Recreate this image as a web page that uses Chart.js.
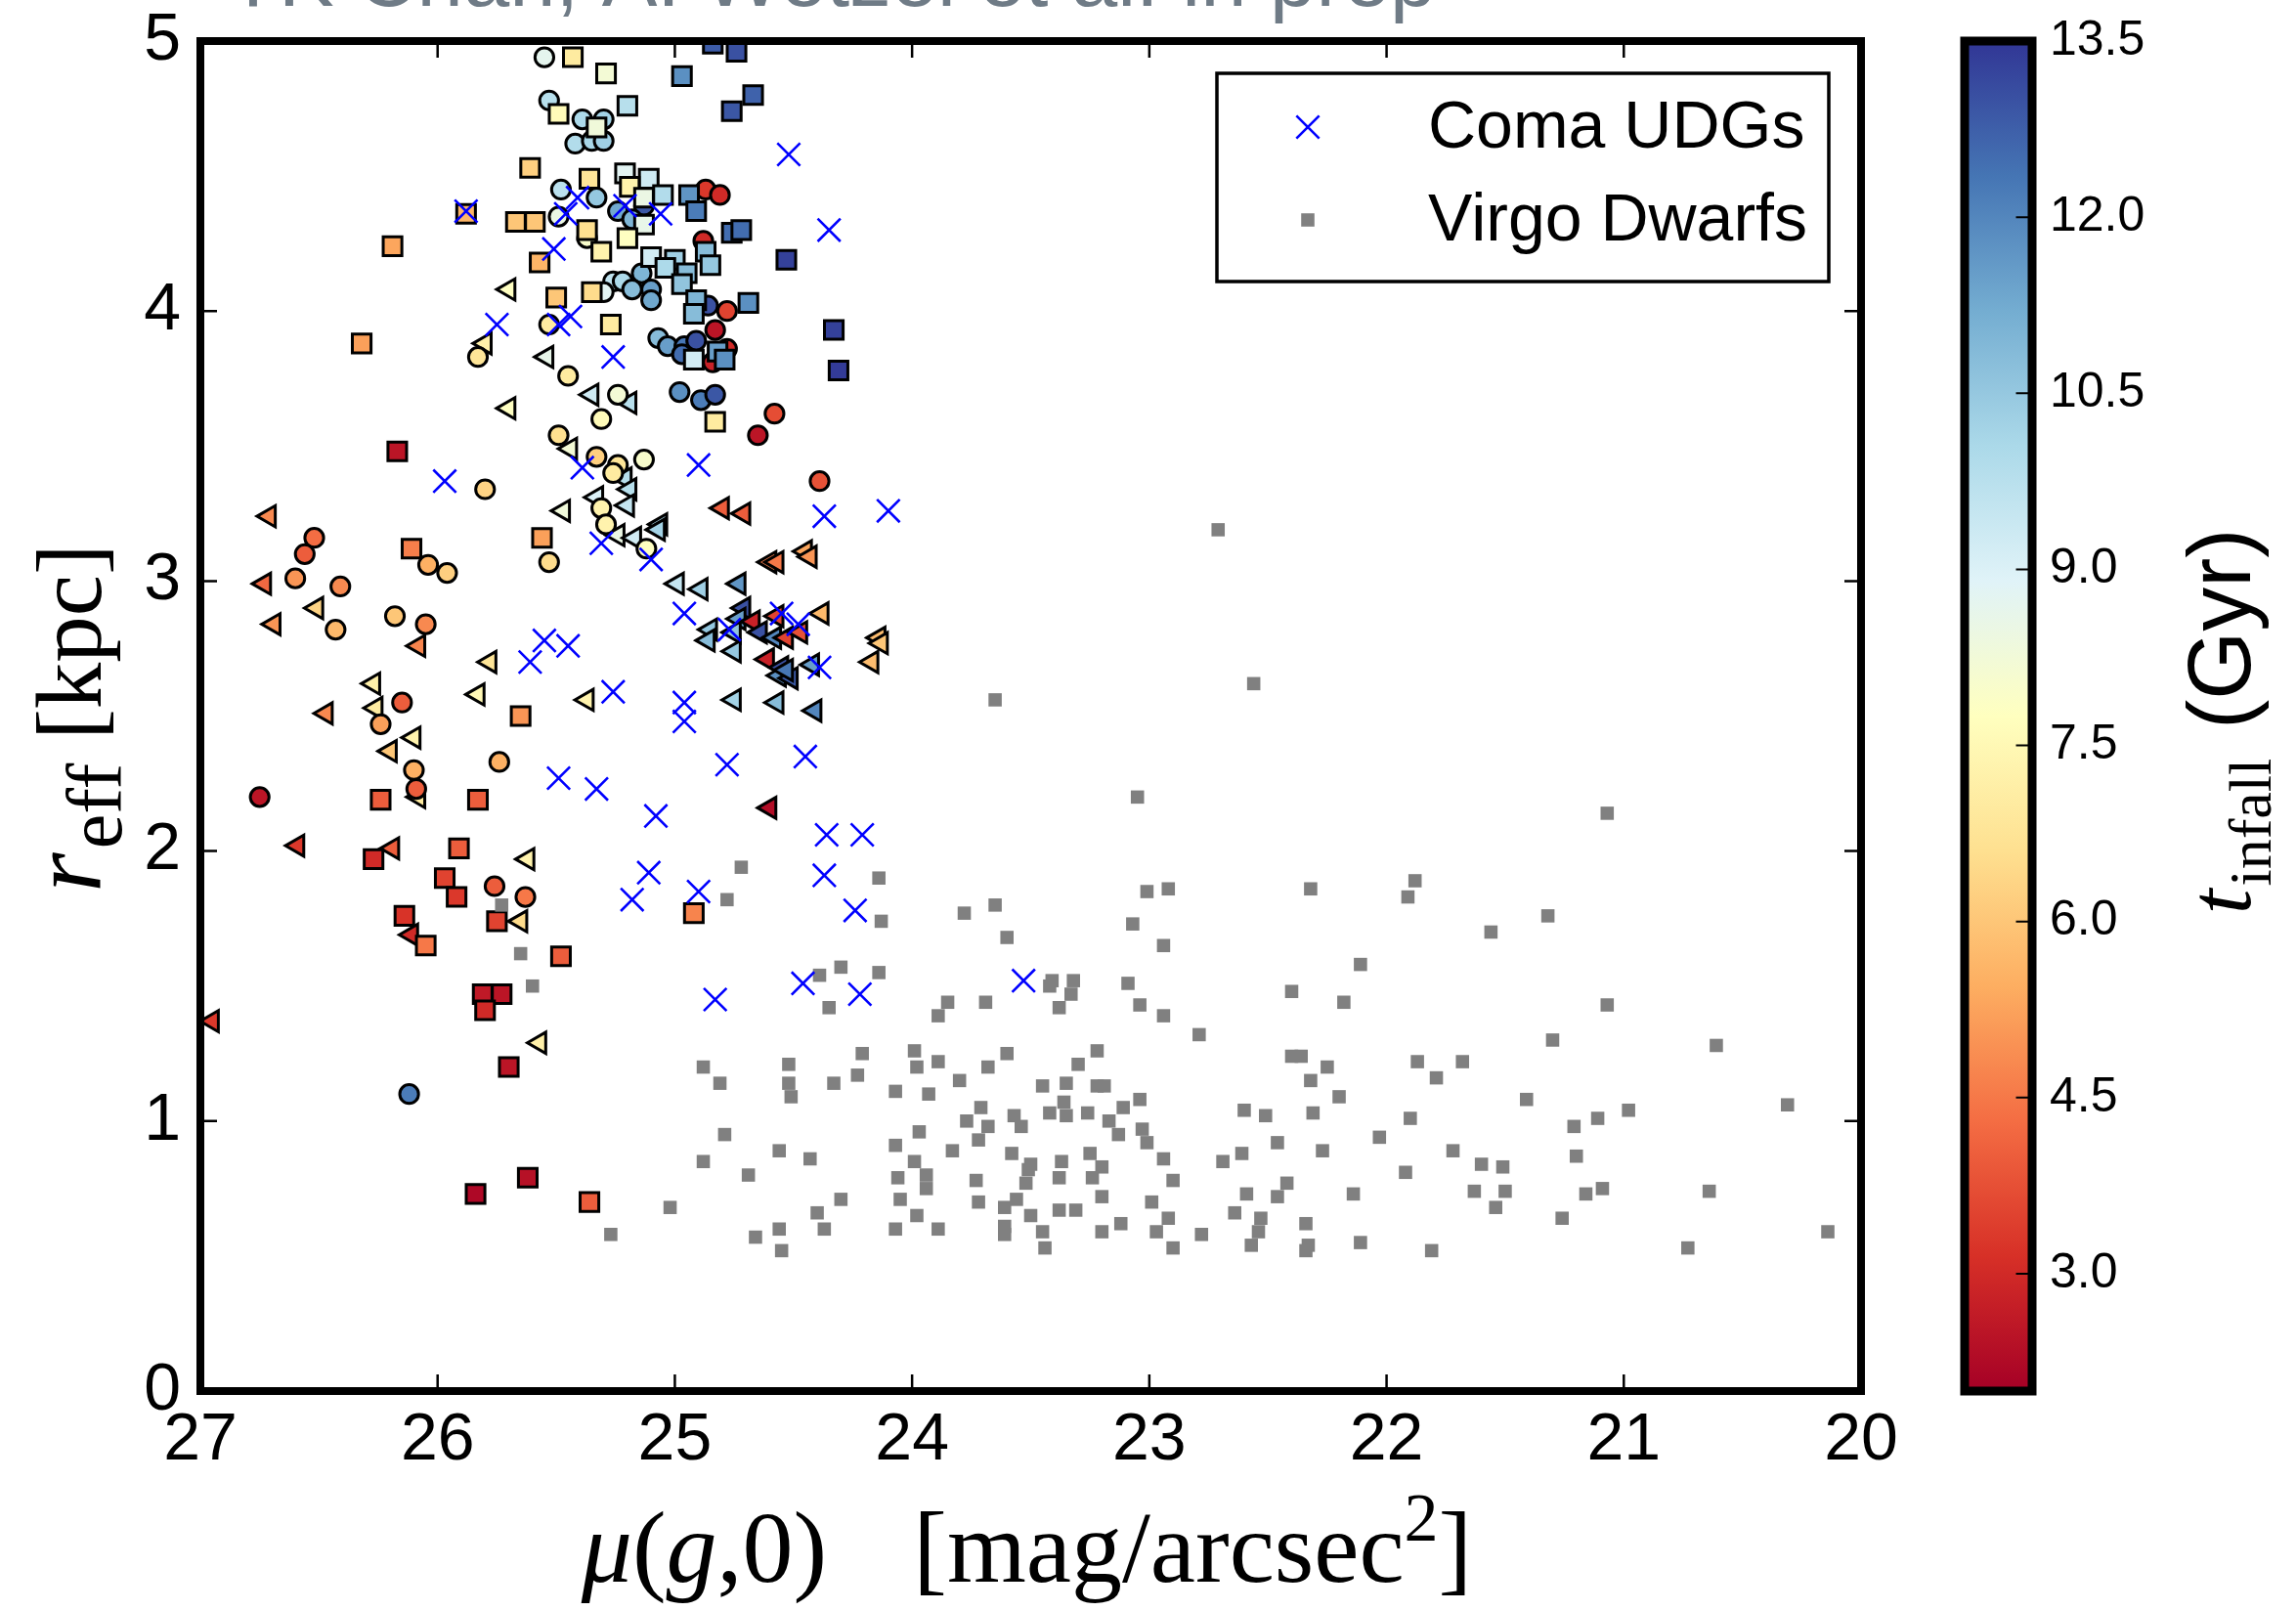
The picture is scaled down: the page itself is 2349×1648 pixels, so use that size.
<!DOCTYPE html>
<html>
<head>
<meta charset="utf-8">
<title>r_eff vs mu(g,0)</title>
<script src="https://cdn.jsdelivr.net/npm/chart.js@4.4.1/dist/chart.umd.min.js"></script>
<style>
  html, body { margin: 0; padding: 0; background: #fff; }
  #wrap { position: relative; width: 2349px; height: 1648px; }
  canvas { position: absolute; left: 0; top: 0; width: 2349px; height: 1648px; }
</style>
</head>
<body>
<div id="wrap">
  <canvas id="scatter" width="2349" height="1648"></canvas>
  <canvas id="colorbar" width="2349" height="1648"></canvas>
</div>
<script>
/* =====================================
   DATA
======================================== */

// axis ticks
const xTicks = [20, 21, 22, 23, 24, 25, 26, 27];
const yTicks = [0, 1, 2, 3, 4, 5];
const cbTicks = [3.0, 4.5, 6.0, 7.5, 9.0, 10.5, 12.0, 13.5];
const cbMin = 2.0;
const cbMax = 13.5;

// simulated galaxies, circles
const circX = [25.55,25.53,25.39,25.30,25.42,25.35,25.30,25.48,25.33,25.24, 25.13,25.18,24.87,24.81,25.49,25.37,24.88,25.26,25.22,25.14,
  25.10,25.18,25.10,25.30,24.86,24.78,25.53,24.83,25.07,25.03, 24.96,24.91,24.97,24.78,24.84,25.83,25.45,25.24,24.98,24.89,
  24.83,24.58,24.65,25.31,25.49,25.33,25.24,25.26,25.13,24.39, 25.80,25.31,25.29,25.12,25.53,26.52,26.56,26.04,25.96,26.60,
  26.41,26.43,26.18,26.05,26.15,26.24,26.10,25.74,26.09,26.75, 25.76,25.63,26.12];
const circY = [4.94,4.78,4.71,4.71,4.62,4.63,4.63,4.45,4.42,4.37, 4.39,4.34,4.45,4.43,4.35,4.27,4.26,4.11,4.11,4.14,
  4.08,4.08,4.04,4.07,4.02,4.00,3.95,3.93,3.90,3.87, 3.87,3.89,3.84,3.86,3.81,3.83,3.76,3.69,3.70,3.67,
  3.69,3.62,3.54,3.60,3.54,3.46,3.43,3.40,3.45,3.37, 3.34,3.27,3.21,3.12,3.07,3.16,3.10,3.06,3.03,3.01,
  2.98,2.82,2.87,2.84,2.55,2.47,2.30,2.33,2.23,2.20, 1.87,1.83,1.10];
const circT = [8.7,9.8,10.0,10.2,9.9,10.1,10.3,9.7,10.5,11.3, 12.9,11.0,3.3,3.0,8.5,8.0,3.0,9.6,10.0,11.0,
  11.5,10.8,11.3,8.8,13.0,3.5,7.0,2.5,10.8,11.5, 12.3,13.0,12.5,3.0,2.8,6.8,7.0,8.2,11.8,12.2,
  12.9,3.7,2.5,7.6,6.6,6.2,6.8,7.0,8.0,3.8, 6.3,7.3,7.3,7.8,6.5,4.3,4.0,5.5,6.2,5.0,
  4.8,5.7,6.0,4.8,4.0,5.2,5.5,5.5,4.0,2.5, 4.0,4.5,12.2];

// simulated galaxies, squares
const sqX = [25.43,25.29,24.97,24.84,24.74,25.49,25.33,25.20,24.67,24.76, 25.61,25.36,25.21,25.11,25.19,25.05,25.13,25.13,24.94,24.91,
  24.76,24.72,24.53,25.67,25.59,25.37,25.20,25.31,25.57,24.87, 25.10,25.00,24.95,24.85,25.04,24.97,25.50,25.35,24.91,24.92,
  24.69,24.33,24.31,25.27,24.92,24.82,24.79,24.83,25.56,25.65, 26.32,26.17,26.11,26.19,25.88,26.24,25.83,26.27,25.91,25.97,
  25.92,26.14,26.05,25.75,25.48,25.81,25.73,25.80,25.70,25.84, 25.62,25.36,24.92];
const sqY = [4.94,4.88,4.87,4.99,4.96,4.73,4.68,4.76,4.80,4.74, 4.53,4.49,4.51,4.49,4.46,4.43,4.42,4.32,4.43,4.37,
  4.29,4.30,4.19,4.33,4.33,4.30,4.27,4.22,4.18,4.22, 4.20,4.19,4.14,4.17,4.16,4.10,4.05,4.07,4.04,3.99,
  4.03,3.93,3.78,3.95,3.82,3.85,3.82,3.59,3.16,2.50, 3.88,3.48,3.12,4.24,4.36,2.19,2.19,1.97,2.01,1.90,
  1.83,1.76,1.65,1.74,1.61,1.47,1.47,1.41,1.20,0.73, 0.79,0.70,1.77];
const sqT = [7.0,8.2,11.8,12.8,13.0,7.6,8.3,9.8,12.7,12.9, 6.2,6.8,8.8,9.3,7.3,9.9,8.5,8.6,11.7,12.2,
  12.5,12.5,13.3,6.0,6.0,6.6,7.8,7.3,5.6,10.8, 9.2,10.3,10.8,10.5,10.0,10.6,6.0,6.5,11.0,10.8,
  11.8,13.3,13.4,7.0,9.2,11.5,11.8,7.0,5.2,5.0, 5.2,2.5,4.6,5.3,5.6,4.0,4.0,3.0,4.0,3.5,
  3.3,3.2,4.5,3.5,4.0,2.6,2.5,3.0,2.5,2.2, 2.4,4.0,4.7];

// simulated galaxies, left triangles
const triX = [25.70,25.80,25.54,25.70,25.35,25.19,25.44,25.21,25.19,25.47, 25.33,25.20,25.24,25.17,25.06,25.07,24.80,24.71,24.60,24.57,
  24.45,24.43,24.99,24.89,24.73,24.71,24.73,24.85,24.86,24.75, 24.67,24.57,24.38,24.64,24.58,24.53,24.47,24.75,24.14,24.13,
  24.61,24.55,24.56,24.51,24.53,24.42,24.17,25.78,25.83,25.37, 24.75,24.57,24.41,26.71,26.73,26.51,26.69,26.08,26.27,26.47,
  26.26,26.10,26.20,26.08,26.59,26.19,25.62,26.11,25.65,25.57, 26.95,24.60];
const triY = [4.08,3.88,3.83,3.64,3.69,3.66,3.49,3.38,3.34,3.26, 3.31,3.28,3.17,3.16,3.21,3.19,3.27,3.25,3.07,3.07,
  3.11,3.09,2.99,2.97,2.99,2.90,2.86,2.82,2.78,2.81, 2.85,2.87,2.88,2.81,2.79,2.79,2.81,2.74,2.79,2.77,
  2.71,2.68,2.65,2.64,2.67,2.69,2.70,2.70,2.58,2.56, 2.56,2.55,2.52,3.24,2.99,2.90,2.84,2.76,2.62,2.51,
  2.53,2.42,2.37,2.20,2.02,2.01,1.97,1.69,1.74,1.29, 1.37,2.16];
const triT = [7.8,7.2,8.6,7.8,9.3,9.8,8.2,9.8,9.8,8.3, 9.0,9.5,8.5,9.2,10.0,10.2,4.0,4.0,4.6,4.5,
  5.3,5.0,9.5,10.3,11.7,13.0,11.5,10.5,10.8,10.6, 2.8,3.5,5.7,13.0,12.0,3.5,3.8,10.5,5.8,6.0,
  2.8,13.0,11.8,12.8,12.3,11.5,5.8,6.8,7.5,7.3, 10.2,10.8,12.0,4.8,4.2,6.3,5.0,4.7,7.2,4.8,
  7.0,7.3,6.0,7.0,3.3,4.0,7.3,3.0,6.5,7.2, 3.3,2.3];

// Coma UDGs
const comaX = [25.88,24.52,24.35,25.41,25.46,25.21,25.06,25.51,25.75,25.49, 25.44,25.26,25.97,25.39,24.90,24.37,24.10,25.31,25.10,24.96,
  25.55,25.45,25.61,24.77,24.55,24.48,24.39,25.26,24.96,24.96, 24.78,24.45,25.49,25.33,25.08,25.11,25.18,24.90,24.36,24.21,
  24.37,24.24,24.83,24.46,24.22,23.53];
const comaY = [4.37,4.58,4.30,4.42,4.36,4.39,4.36,4.23,3.95,3.95, 3.98,3.83,3.37,3.42,3.43,3.24,3.26,3.14,3.08,2.88,
  2.78,2.76,2.70,2.82,2.88,2.84,2.68,2.59,2.55,2.48, 2.32,2.35,2.27,2.23,2.13,1.92,1.82,1.85,2.06,2.06,
  1.91,1.78,1.45,1.51,1.47,1.52];

// Virgo dwarfs
const virgoX = [25.73,25.65,25.60,24.72,24.78,24.14,24.13,23.78,23.65,23.60, 24.39,24.30,24.14,24.35,23.85,23.69,23.89,24.21,23.99,23.60,
  24.88,24.81,24.52,24.52,24.51,24.33,24.23,23.98,23.89,23.68, 24.07,23.93,23.80,23.71,23.77,23.68,23.57,23.97,24.07,23.99,
  23.83,23.72,24.79,24.88,24.69,24.56,24.43,23.94,23.94,24.06, 23.73,23.58,25.02,24.30,24.05,24.40,23.98,23.72,23.61,24.56,
  24.37,24.07,23.89,23.61,25.27,24.66,24.55,23.05,23.01,22.92, 22.32,21.88,21.91,23.07,22.94,22.11,23.41,23.42,23.32,23.33,
  23.38,23.09,23.04,22.94,22.79,22.40,22.18,23.22,23.30,23.45, 23.35,23.36,23.42,23.35,23.26,23.22,23.19,23.17,23.13,23.11,
  23.04,23.54,23.03,23.01,22.94,22.90,23.50,23.51,23.37,23.25, 23.20,23.52,23.38,23.24,23.56,23.50,23.38,23.31,23.20,23.61,
  23.45,23.44,23.20,23.12,22.99,22.92,22.97,22.90,22.78,22.60, 22.51,22.40,22.36,22.25,22.32,22.20,22.31,22.46,22.27,22.03,
  22.61,22.69,22.42,22.46,22.59,22.64,22.53,22.54,22.57,22.34, 22.33,22.34,22.14,22.11,21.87,21.90,21.92,21.07,21.56,21.32,
  21.07,21.30,20.61,21.79,21.68,21.41,21.21,21.11,20.98,20.31, 21.72,21.60,21.51,21.20,21.63,21.50,21.54,21.16,21.09,20.64,
  21.26,21.81,20.73,20.14,22.71,22.56,23.65];
const virgoY = [1.80,1.62,1.50,1.94,1.82,1.90,1.74,1.77,1.80,1.68, 1.54,1.57,1.55,1.42,1.44,1.44,1.39,1.25,1.26,1.25,
  1.20,1.14,1.21,1.14,1.09,1.14,1.17,1.20,1.22,1.20, 1.11,1.10,1.15,1.05,1.00,0.98,1.02,0.96,0.91,0.85,
  0.89,0.93,0.95,0.85,0.80,0.89,0.86,0.80,0.75,0.79, 0.78,0.88,0.68,0.71,0.71,0.66,0.65,0.70,0.68,0.60,
  0.60,0.60,0.60,0.61,0.58,0.57,0.52,2.20,1.85,1.86, 1.86,1.89,1.83,1.73,1.65,1.58,1.52,1.50,1.52,1.47,
  1.42,1.51,1.43,1.39,1.32,1.48,1.44,1.26,1.21,1.13, 1.14,1.07,1.03,1.02,1.03,1.13,1.13,1.00,0.95,1.05,
  1.08,0.98,0.97,0.92,0.86,0.78,0.84,0.82,0.85,0.88, 0.83,0.77,0.79,0.79,0.71,0.65,0.67,0.67,0.72,0.58,
  0.59,0.53,0.59,0.62,0.70,0.64,0.59,0.53,0.58,1.04, 1.02,1.24,1.24,1.20,1.15,1.09,1.03,0.92,0.89,0.94,
  0.88,0.85,0.77,0.72,0.73,0.66,0.64,0.59,0.54,0.62, 0.54,0.52,0.73,0.55,1.22,1.01,0.81,2.14,1.70,1.76,
  1.43,1.30,1.28,1.16,1.22,1.08,0.98,1.01,1.04,1.06, 0.89,0.84,0.83,0.87,0.74,0.74,0.68,0.73,0.75,0.74,
  0.64,0.52,0.53,0.59,3.19,2.62,2.56];

/* =====================================
   COLOR MAP (RdYlBu)
======================================== */

const RdYlBu = ['#a50026', '#d73027', '#f46d43', '#fdae61', '#fee090', '#ffffbf',
                '#e0f3f8', '#abd9e9', '#74add1', '#4575b4', '#313695'];
const stops = RdYlBu.map(h => [1, 3, 5].map(i => parseInt(h.slice(i, i + 2), 16)));

function tColor(t) {
    let f = (t - cbMin) / (cbMax - cbMin);
    f = Math.min(1, Math.max(0, f)) * (stops.length - 1);
    const i = Math.min(Math.floor(f), stops.length - 2);
    const u = f - i;
    const c = stops[i].map((v, k) => Math.round(v + (stops[i + 1][k] - v) * u));
    return `rgb(${c[0]},${c[1]},${c[2]})`;
}

const pts = (xs, ys) => xs.map((x, i) => ({ x: x, y: ys[i] }));

/* =====================================
   TEXT HELPER
======================================== */

// draws a row of text pieces (for math labels), centred on (cx, cy)
function drawRuns(ctx, runs, cx, cy, angle) {
    ctx.save();
    ctx.translate(cx, cy);
    ctx.rotate(angle);
    ctx.textAlign = 'left';
    ctx.textBaseline = 'alphabetic';
    ctx.fillStyle = '#000';
    let total = 0;
    runs.forEach(r => {
        if (r.text) { ctx.font = r.font; r.w = ctx.measureText(r.text).width; } else { r.w = r.gap; }
        total += r.w;
    });
    let x = -total / 2;
    runs.forEach(r => {
        if (r.text) { ctx.font = r.font; ctx.fillText(r.text, x, r.dy || 0); }
        x += r.w;
    });
    ctx.restore();
}

const SERIF = '"Liberation Serif", "DejaVu Serif", serif';
const SANS = '"Liberation Sans", Arial, sans-serif';
const TICK = 17;

Chart.defaults.font.family = SANS;
Chart.defaults.color = '#000';

// keep the plot box where it is: no extra room for overhanging tick labels
function fixWidth(w) {
    return s => { s.width = w; s.paddingTop = 0; s.paddingBottom = 0; };
}
function fixHeight(h) {
    return s => { s.height = h; s.paddingLeft = 0; s.paddingRight = 0; };
}

/* =====================================
   MAIN SCATTER
======================================== */

function legendMarker(ctx, ds, x, y) {
    ctx.save();
    ctx.fillStyle = ds.pointBackgroundColor;
    ctx.strokeStyle = ds.pointBorderColor;
    ctx.lineWidth = ds.pointBorderWidth;
    const opts = { pointStyle: ds.pointStyle, radius: ds.pointRadius, rotation: ds.pointRotation || 0, borderWidth: ds.pointBorderWidth };
    if (Chart.helpers && Chart.helpers.drawPoint) {
        Chart.helpers.drawPoint(ctx, opts, x, y);
    } else if (ds.pointStyle === 'rect') {
        const s = ds.pointRadius * Math.SQRT1_2;
        ctx.fillRect(x - s, y - s, 2 * s, 2 * s);
    } else {
        const s = ds.pointRadius * Math.SQRT1_2;
        ctx.beginPath();
        ctx.moveTo(x - s, y - s); ctx.lineTo(x + s, y + s);
        ctx.moveTo(x - s, y + s); ctx.lineTo(x + s, y - s);
        ctx.stroke();
    }
    ctx.restore();
}

const framePlugin = {
    id: 'frame',
    afterDatasetsDraw(chart) {
        const { ctx, chartArea: a, scales } = chart;
        ctx.save();
        ctx.strokeStyle = '#000';
        ctx.lineWidth = 2.5;
        ctx.beginPath();
        xTicks.forEach(v => {
            const p = scales.x.getPixelForValue(v);
            ctx.moveTo(p, a.bottom); ctx.lineTo(p, a.bottom - TICK);
            ctx.moveTo(p, a.top); ctx.lineTo(p, a.top + TICK);
        });
        yTicks.forEach(v => {
            const p = scales.y.getPixelForValue(v);
            ctx.moveTo(a.left, p); ctx.lineTo(a.left + TICK, p);
            ctx.moveTo(a.right, p); ctx.lineTo(a.right - TICK, p);
        });
        ctx.stroke();
        ctx.lineWidth = 8;
        ctx.strokeRect(a.left, a.top, a.right - a.left, a.bottom - a.top);
        ctx.restore();
    },
    afterDraw(chart) {
        const { ctx, chartArea: a } = chart;

        // title, cut off by the top of the figure
        ctx.save();
        ctx.font = '85px ' + SANS;
        ctx.fillStyle = '#6f7b86';
        ctx.textBaseline = 'alphabetic';
        ctx.textAlign = 'left';
        ctx.fillText('TK Chan, A. Wetzel et al. in prep', a.left + 28, 6);
        ctx.restore();

        // legend box
        const lw = 626, lh = 213;
        const lx = a.right - 33 - lw, ly = a.top + 33;
        ctx.save();
        ctx.fillStyle = '#fff';
        ctx.fillRect(lx, ly, lw, lh);
        ctx.strokeStyle = '#000';
        ctx.lineWidth = 3.5;
        ctx.strokeRect(lx, ly, lw, lh);
        ctx.font = '68px ' + SANS;
        ctx.textBaseline = 'middle';
        ctx.textAlign = 'left';
        const rows = chart.data.datasets.filter(ds => ds.label);
        rows.forEach((ds, i) => {
            const ry = ly + 55 + i * 95;
            legendMarker(ctx, ds, lx + 93, ry);
            ctx.fillStyle = '#000';
            ctx.fillText(ds.label, lx + 216, ry + 2);
        });
        ctx.restore();

        // axis labels
        drawRuns(ctx, [
            { text: 'μ', font: 'italic 104px ' + SERIF },
            { text: '(', font: '104px ' + SERIF },
            { text: 'g', font: 'italic 104px ' + SERIF },
            { text: ',0)', font: '104px ' + SERIF },
            { gap: 88 },
            { text: '[mag/arcsec', font: '104px ' + SERIF },
            { text: '2', font: '70px ' + SERIF, dy: -42 },
            { text: ']', font: '104px ' + SERIF }
        ], (a.left + a.right) / 2 - 4, 1618, 0);

        drawRuns(ctx, [
            { text: 'r', font: 'italic 104px ' + SERIF },
            { gap: 4 },
            { text: 'eff', font: '80px ' + SERIF, dy: 21 },
            { gap: 24 },
            { text: '[kpc]', font: '95px ' + SERIF }
        ], 103, (a.top + a.bottom) / 2 + 2, -Math.PI / 2);
    }
};

const simStyle = { pointBorderColor: '#000', pointBorderWidth: 3, clip: 0 };

new Chart(document.getElementById('scatter'), {
    type: 'scatter',
    data: {
        datasets: [
            { label: 'Coma UDGs', data: pts(comaX, comaY), pointStyle: 'crossRot', pointRadius: 16.5,
              pointBorderWidth: 2.6, pointBorderColor: '#0000ff', pointBackgroundColor: '#0000ff', order: 0, clip: 0 },
            { label: 'Virgo Dwarfs', data: pts(virgoX, virgoY), pointStyle: 'rect', pointRadius: 9.6,
              pointBorderWidth: 0, pointBorderColor: '#808080', pointBackgroundColor: '#808080', order: 1, clip: 0 },
            Object.assign({ label: '', data: pts(sqX, sqY), pointStyle: 'rect', pointRadius: 13.5,
              pointBackgroundColor: sqT.map(tColor), order: 2 }, simStyle),
            Object.assign({ label: '', data: pts(circX, circY), pointStyle: 'circle', pointRadius: 9.6,
              pointBackgroundColor: circT.map(tColor), order: 3 }, simStyle),
            Object.assign({ label: '', data: pts(triX, triY), pointStyle: 'triangle', pointRotation: -90, pointRadius: 12.5,
              pointBackgroundColor: triT.map(tColor), order: 4 }, simStyle)
        ]
    },
    options: {
        responsive: false,
        animation: false,
        events: [],
        layout: { autoPadding: false, padding: { left: 0, top: 42, right: 445, bottom: 0 } },
        plugins: { legend: { display: false }, tooltip: { enabled: false } },
        scales: {
            x: {
                type: 'linear', min: 20, max: 27, reverse: true,
                afterBuildTicks: s => { s.ticks = xTicks.map(v => ({ value: v })); },
                afterFit: fixHeight(225),
                grid: { display: false, drawTicks: false },
                border: { display: false },
                ticks: { font: { size: 68 }, color: '#000', padding: 10, maxRotation: 0, autoSkip: false, callback: v => String(v) }
            },
            y: {
                type: 'linear', min: 0, max: 5,
                afterBuildTicks: s => { s.ticks = yTicks.map(v => ({ value: v })); },
                afterFit: fixWidth(205),
                grid: { display: false, drawTicks: false },
                border: { display: false },
                ticks: { font: { size: 68 }, color: '#000', padding: 20, autoSkip: false, callback: v => String(v) }
            }
        }
    },
    plugins: [framePlugin]
});

/* =====================================
   COLORBAR
======================================== */

const cbPlugin = {
    id: 'cbframe',
    afterDraw(chart) {
        const { ctx, chartArea: a, scales } = chart;
        ctx.save();
        ctx.strokeStyle = '#000';
        ctx.lineWidth = 2;
        ctx.beginPath();
        cbTicks.forEach(v => {
            const p = scales.y.getPixelForValue(v);
            ctx.moveTo(a.right, p); ctx.lineTo(a.right - 16.5, p);
        });
        ctx.stroke();
        ctx.lineWidth = 9;
        ctx.strokeRect(a.left, a.top, a.right - a.left, a.bottom - a.top);
        ctx.restore();

        drawRuns(ctx, [
            { text: 't', font: 'italic 92px ' + SERIF },
            { gap: 3 },
            { text: 'infall', font: '62px ' + SERIF, dy: 21 },
            { gap: 30 },
            { text: '(Gyr)', font: '90px ' + SANS }
        ], 2302, 738, -Math.PI / 2);
    }
};

new Chart(document.getElementById('colorbar'), {
    type: 'bar',
    data: {
        labels: [''],
        datasets: [{
            data: [[cbMin, cbMax]],
            borderWidth: 0,
            barPercentage: 1,
            categoryPercentage: 1,
            backgroundColor: c => {
                const ch = c.chart;
                if (!ch.chartArea) return tColor(cbMin);
                const ys = ch.scales.y;
                const g = ch.ctx.createLinearGradient(0, ys.getPixelForValue(cbMin), 0, ys.getPixelForValue(cbMax));
                RdYlBu.forEach((col, i) => g.addColorStop(i / (RdYlBu.length - 1), col));
                return g;
            }
        }]
    },
    options: {
        responsive: false,
        animation: false,
        events: [],
        layout: { autoPadding: false, padding: { left: 2010, top: 42, right: 0, bottom: 225 } },
        plugins: { legend: { display: false }, tooltip: { enabled: false } },
        scales: {
            x: { display: false },
            y: {
                position: 'right', min: cbMin, max: cbMax,
                afterBuildTicks: s => { s.ticks = cbTicks.map(v => ({ value: v })); },
                afterFit: fixWidth(270),
                grid: { display: false, drawTicks: false },
                border: { display: false },
                ticks: { font: { size: 50 }, color: '#000', padding: 18, autoSkip: false, callback: v => Number(v).toFixed(1) }
            }
        }
    },
    plugins: [cbPlugin]
});
</script>
</body>
</html>
